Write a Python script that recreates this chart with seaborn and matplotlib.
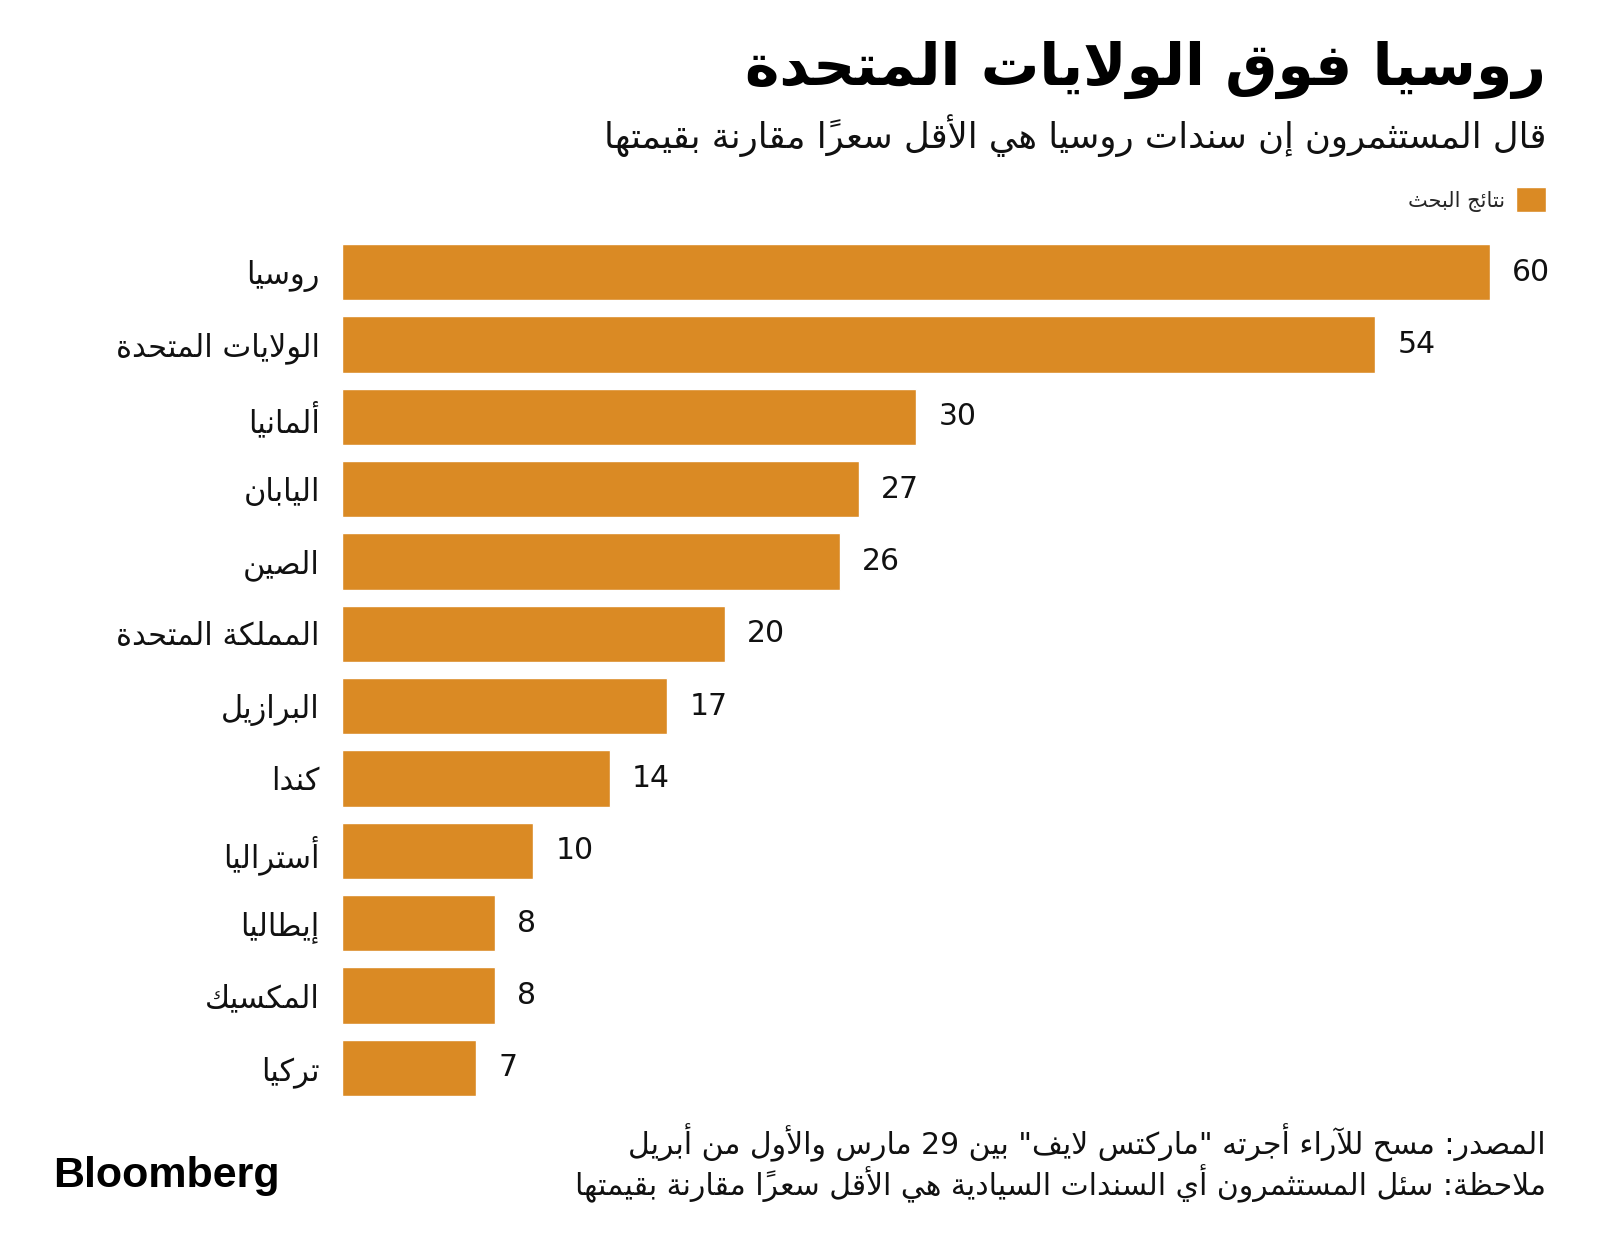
import re
import matplotlib
matplotlib.use("Agg")
import matplotlib.pyplot as plt
import pandas as pd
import seaborn as sns

# chart data
countries = ["روسيا", "الولايات المتحدة", "ألمانيا", "اليابان", "الصين", "المملكة المتحدة",
             "البرازيل", "كندا", "أستراليا", "إيطاليا", "المكسيك", "تركيا"]
votes = [60, 54, 30, 27, 26, 20, 17, 14, 10, 8, 8, 7]
series_name = "نتائج البحث"

title = "روسيا فوق الولايات المتحدة"
subtitle = "قال المستثمرون إن سندات روسيا هي الأقل سعراً مقارنة بقيمتها"
source = "المصدر: مسح للآراء أجرته \"ماركتس لايف\" بين 29 مارس والأول من أبريل"
note = "ملاحظة: سئل المستثمرون أي السندات السيادية هي الأقل سعراً مقارنة بقيمتها"

bar_color = "#DA8A24"

# --- minimal arabic shaping (matplotlib has no RTL / joining support) ---
# char -> (isolated presentation form, number of forms)
FORMS = {
    "\u0621": (0xFE80, 1), "\u0622": (0xFE81, 2), "\u0623": (0xFE83, 2), "\u0624": (0xFE85, 2),
    "\u0625": (0xFE87, 2), "\u0626": (0xFE89, 4), "\u0627": (0xFE8D, 2), "\u0628": (0xFE8F, 4),
    "\u0629": (0xFE93, 2), "\u062A": (0xFE95, 4), "\u062B": (0xFE99, 4), "\u062C": (0xFE9D, 4),
    "\u062D": (0xFEA1, 4), "\u062E": (0xFEA5, 4), "\u062F": (0xFEA9, 2), "\u0630": (0xFEAB, 2),
    "\u0631": (0xFEAD, 2), "\u0632": (0xFEAF, 2), "\u0633": (0xFEB1, 4), "\u0634": (0xFEB5, 4),
    "\u0635": (0xFEB9, 4), "\u0636": (0xFEBD, 4), "\u0637": (0xFEC1, 4), "\u0638": (0xFEC5, 4),
    "\u0639": (0xFEC9, 4), "\u063A": (0xFECD, 4), "\u0641": (0xFED1, 4), "\u0642": (0xFED5, 4),
    "\u0643": (0xFED9, 4), "\u0644": (0xFEDD, 4), "\u0645": (0xFEE1, 4), "\u0646": (0xFEE5, 4),
    "\u0647": (0xFEE9, 4), "\u0648": (0xFEED, 2), "\u0649": (0xFEEF, 2), "\u064A": (0xFEF1, 4),
}
LAM_ALEF = {"\u0622": 0xFEF5, "\u0623": 0xFEF7, "\u0625": 0xFEF9, "\u0627": 0xFEFB}


def is_mark(c):
    return "\u064B" <= c <= "\u065F" or c == "\u0670"


def rtl(text):
    chars = list(text)
    n = len(chars)

    def neighbour(i, step):
        j = i + step
        while 0 <= j < n and is_mark(chars[j]):
            j += step
        return chars[j] if 0 <= j < n else None

    clusters = []
    i = 0
    while i < n:
        c = chars[i]
        if c in FORMS:
            base, k = FORMS[c]
            p = neighbour(i, -1)
            joins_prev = p in FORMS and FORMS[p][1] == 4 and k > 1
            nx = neighbour(i, 1)
            joins_next = k == 4 and nx in FORMS and FORMS[nx][1] > 1
            if c == "\u0644" and nx in LAM_ALEF:
                clusters.append(chr(LAM_ALEF[nx] + (1 if joins_prev else 0)))
                i += 1
                while i < n and chars[i] != nx:
                    i += 1
            elif k == 1:
                clusters.append(chr(base))
            elif joins_prev and joins_next:
                clusters.append(chr(base + 3))
            elif joins_prev:
                clusters.append(chr(base + 1))
            elif joins_next:
                clusters.append(chr(base + 2))
            else:
                clusters.append(chr(base))
        elif is_mark(c) and clusters:
            clusters[-1] += c
        elif c.isdigit() and clusters and clusters[-1][-1].isdigit():
            clusters[-1] += c
        else:
            clusters.append(c)
        i += 1
    return "".join(reversed(clusters))


df = pd.DataFrame({"country": [rtl(c) for c in countries],
                   "votes": votes,
                   "series": rtl(series_name)})

sns.set_style("white")
plt.rcParams["font.family"] = ["DejaVu Sans"]

fig = plt.figure(figsize=(16, 12.52), dpi=100)
ax = fig.add_axes([0.2138, 0.1182, 0.7175, 0.6933])

sns.barplot(data=df, x="votes", y="country", hue="series", palette=[bar_color],
            width=0.78, orient="h", ax=ax, saturation=1)

for cont in ax.containers:
    ax.bar_label(cont, padding=16, fontsize=21.5, color="#111111")

ax.set_xlim(0, 60)
ax.set_xlabel("")
ax.set_ylabel("")
ax.set_xticks([])
ax.tick_params(axis="y", length=0, pad=16, labelsize=22, labelcolor="#111111")
sns.despine(ax=ax, left=True, bottom=True)

sns.move_legend(ax, "upper right", bbox_to_anchor=(1.049, 1.056), frameon=False,
                title=None, markerfirst=False, fontsize=15, handlelength=1.45,
                handleheight=1.45, handletextpad=0.55, borderpad=0, borderaxespad=0)

fig.text(1546 / 1600, 1 - 70 / 1252, rtl(title), ha="right", va="center",
         fontsize=42, fontweight="bold", color="#000000")
fig.text(1546 / 1600, 1 - 136 / 1252, rtl(subtitle), ha="right", va="center",
         fontsize=25.5, color="#111111")
fig.text(1546 / 1600, 1 - 1143 / 1252, rtl(source), ha="right", va="center",
         fontsize=21.5, color="#111111")
fig.text(1546 / 1600, 1 - 1184 / 1252, rtl(note), ha="right", va="center",
         fontsize=21.5, color="#111111")
fig.text(53 / 1600, 1 - 1176 / 1252, "Bloomberg", ha="left", va="center",
         fontsize=31, fontweight="bold", family="Liberation Sans", color="#000000")

fig.savefig("out.png", dpi=100)
